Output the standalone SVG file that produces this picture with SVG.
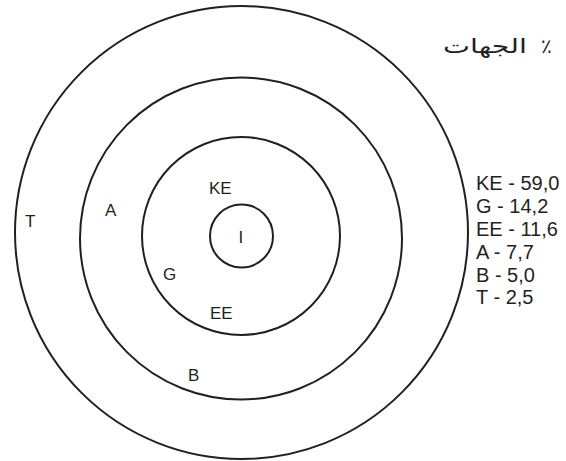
<svg xmlns="http://www.w3.org/2000/svg" width="566" height="461" viewBox="0 0 566 461">
<style>
.ring{fill:none;stroke:#231f20;stroke-width:2}
.lbl{font-family:"Liberation Sans",Arial,sans-serif;font-size:17px;fill:#231f20}
.leg{font-family:"Liberation Sans",Arial,sans-serif;font-size:20px;fill:#231f20}
.ar{font-family:"DejaVu Sans",sans-serif;font-size:20px;fill:#231f20}
</style>
<rect width="566" height="461" fill="#fff"/>
<g id="ring-T"><circle class="ring" cx="241.5" cy="232.5" r="226.5"/><text class="lbl" x="25" y="227">T</text></g>
<g id="ring-A"><circle class="ring" cx="241" cy="238.5" r="161"/><text class="lbl" x="105" y="216">A</text></g>
<g id="ring-B"><text class="lbl" x="188" y="381">B</text></g>
<g id="ring-G"><circle class="ring" cx="241" cy="236" r="99"/><text class="lbl" x="163" y="280">G</text></g>
<g id="ring-KE"><text class="lbl" x="209" y="194">KE</text></g>
<g id="ring-EE"><text class="lbl" x="210" y="319">EE</text></g>
<g id="ring-I"><circle class="ring" cx="241.5" cy="236" r="31.5"/><text class="lbl" x="238.5" y="243">I</text></g>
<g id="legend">
<text class="ar" y="53"><tspan x="541">٪</tspan><tspan x="443" textLength="84" lengthAdjust="spacingAndGlyphs">الجهات</tspan></text>
<text class="leg" x="476" y="190">KE - 59,0</text>
<text class="leg" x="476" y="213">G - 14,2</text>
<text class="leg" x="476" y="236">EE - 11,6</text>
<text class="leg" x="476" y="259">A - 7,7</text>
<text class="leg" x="476" y="282">B - 5,0</text>
<text class="leg" x="476" y="304">T - 2,5</text>
</g>
<g id="connectors"/>
</svg>
